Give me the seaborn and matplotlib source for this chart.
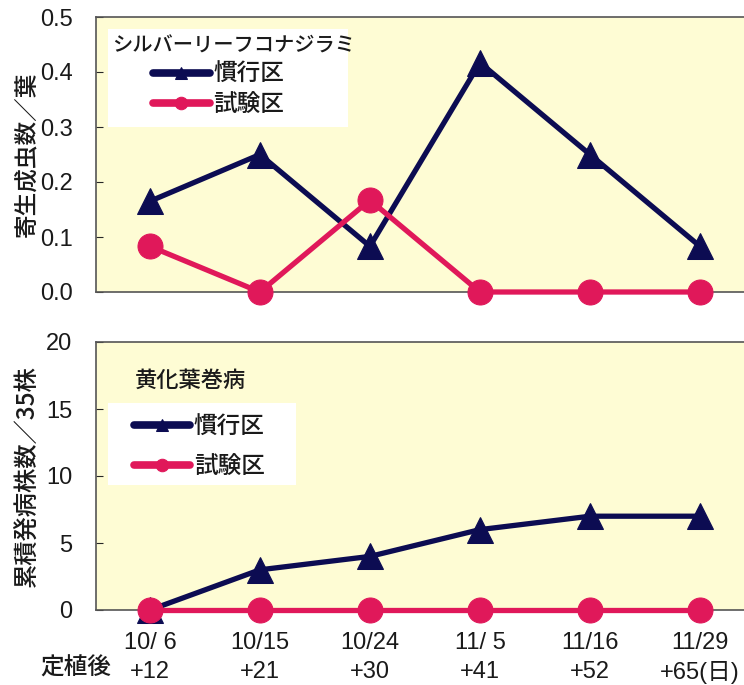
import matplotlib
matplotlib.use("Agg")
import matplotlib.pyplot as plt
from matplotlib.patches import Rectangle
import seaborn as sns
import pandas as pd
import numpy as np

dates = ["10/ 6", "10/15", "10/24", "11/ 5", "11/16", "11/29"]
days = ["+12", "+21", "+30", "+41", "+52", "+65(日)"]
groups = ["慣行区", "試験区"]
whitefly_conv = [0.165, 0.25, 0.083, 0.417, 0.25, 0.083]
whitefly_test = [0.083, 0.0, 0.167, 0.0, 0.0, 0.0]
disease_conv = [0, 3, 4, 6, 7, 7]
disease_test = [0, 0, 0, 0, 0, 0]

sns.set_style("ticks")
plt.rcParams["font.family"] = ["Liberation Sans", "Noto Sans CJK JP", "DejaVu Sans"]
JP = ["Noto Sans CJK JP", "DejaVu Sans"]
JPW = "medium"

NAVY = "#0c0c52"
RED = "#e0185a"
BG = "#fefcd4"
TXT = "#1a1a1a"

fig = plt.figure(figsize=(7.44, 6.85), dpi=100)
ax1 = fig.add_axes([96/744, 1-292/685, 648/744, 275/685])
ax2 = fig.add_axes([96/744, 1-610/685, 648/744, 268/685])

idx = list(range(len(dates)))

def draw(ax, conv, test):
    df = pd.DataFrame({
        "x": idx * 2,
        "y": list(conv) + list(test),
        "g": [groups[0]] * len(idx) + [groups[1]] * len(idx),
    })
    sns.lineplot(data=df[df.g == groups[0]], x="x", y="y", ax=ax, color=NAVY,
                 marker="^", markersize=19, linewidth=3.8, markeredgecolor=NAVY,
                 label=groups[0], clip_on=False, zorder=3)
    sns.lineplot(data=df[df.g == groups[1]], x="x", y="y", ax=ax, color=RED,
                 marker="o", markersize=18, linewidth=3.8, markeredgecolor=RED,
                 label=groups[1], clip_on=False, zorder=4)
    ax.set_facecolor(BG)
    ax.set_xlim(-0.49, 5.4)
    ax.spines["right"].set_visible(False)
    for s in ["left", "top", "bottom"]:
        ax.spines[s].set_color("#555555")
        ax.spines[s].set_linewidth(1.2)
    ax.tick_params(axis="y", direction="in", length=5, labelsize=17, pad=17,
                   labelcolor=TXT)
    ax.tick_params(axis="x", length=0, labelcolor=TXT)
    ax.set_xlabel("")

def legend(ax, anchor, spacing):
    leg = ax.legend(loc="upper left", bbox_to_anchor=anchor, frameon=False,
                    handlelength=2.4, handletextpad=0.15, borderpad=0,
                    borderaxespad=0, labelspacing=spacing,
                    prop={"family": JP, "size": 17, "weight": JPW})
    for t in leg.get_texts():
        t.set_color(TXT)
    for h in leg.legend_handles:
        h.set_linewidth(5.5)
        h.set_markersize(9)
    leg.set_zorder(6)
    return leg

draw(ax1, whitefly_conv, whitefly_test)
draw(ax2, disease_conv, disease_test)

ax1.set_ylim(0, 0.5)
ax1.set_yticks(np.arange(0, 0.51, 0.1))
ax1.set_yticklabels([f"{v:.1f}" for v in np.arange(0, 0.51, 0.1)])
ax1.set_xticks(idx)
ax1.set_xticklabels([])
ax1.set_ylabel("寄生成虫数／葉", fontsize=17, labelpad=1, family=JP,
               weight=JPW, color=TXT)

ax2.set_ylim(0, 20)
ax2.set_yticks([0, 5, 10, 15, 20])
ax2.set_xticks(idx)
ax2.set_xticklabels([f"{d}\n{p}" for d, p in zip(dates, days)], fontsize=17,
                    linespacing=1.4)
ax2.tick_params(axis="x", pad=16)
ax2.set_ylabel("累積発病株数／35株", fontsize=17.5, labelpad=4, family=JP,
               weight=JPW, color=TXT)

# top panel: white box with title and legend
ax1.add_patch(Rectangle((0.0185, 0.600), 0.37, 0.355, transform=ax1.transAxes,
                        facecolor="white", edgecolor="none", zorder=5))
ax1.text(0.0247, 0.895, "シルバーリーフコナジラミ", transform=ax1.transAxes,
         fontsize=14.6, family=JP, weight=JPW, color=TXT, ha="left",
         va="center", zorder=6)
legend(ax1, (0.088, 0.832), 0.3)

# bottom panel
ax2.text(0.060, 0.858, "黄化葉巻病", transform=ax2.transAxes, fontsize=16,
         family=JP, weight=JPW, color=TXT, ha="left", va="center", zorder=6)
ax2.add_patch(Rectangle((0.0185, 0.466), 0.29, 0.306, transform=ax2.transAxes,
                        facecolor="white", edgecolor="none", zorder=5))
legend(ax2, (0.058, 0.725), 0.7)

fig.text(76/744, 1-668/685, "定植後", fontsize=17, family=JP, weight=JPW,
         color=TXT, ha="center", va="center")

fig.savefig("out.png", dpi=100)
